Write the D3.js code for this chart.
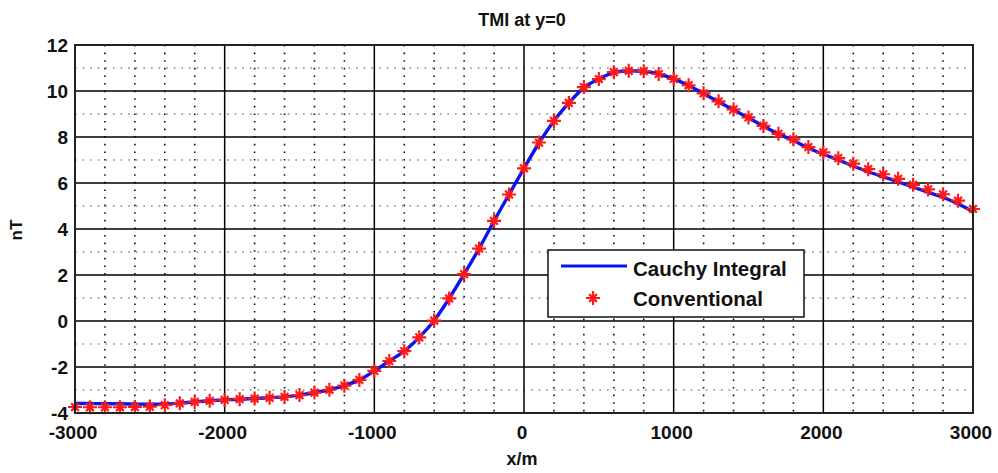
<!DOCTYPE html>
<html>
<head>
<meta charset="utf-8">
<script src="https://cdn.jsdelivr.net/npm/d3@7"></script>
<style>
  body { margin: 0; background: #fff; }
  svg { font-family: "Liberation Sans", Arial, sans-serif; font-weight: bold; }
</style>
</head>
<body>
<svg width="998" height="473"></svg>
<script>
// sample positions along the profile (m)
const xPos = [-3000, -2900, -2800, -2700, -2600, -2500, -2400, -2300, -2200, -2100,
  -2000, -1900, -1800, -1700, -1600, -1500, -1400, -1300, -1200, -1100,
  -1000, -900, -800, -700, -600, -500, -400, -300, -200, -100,
  0, 100, 200, 300, 400, 500, 600, 700, 800, 900,
  1000, 1100, 1200, 1300, 1400, 1500, 1600, 1700, 1800, 1900,
  2000, 2100, 2200, 2300, 2400, 2500, 2600, 2700, 2800, 2900, 3000];

const cauchy = [-3.58, -3.59, -3.60, -3.60, -3.61, -3.62, -3.61, -3.57, -3.52, -3.47,
  -3.43, -3.40, -3.37, -3.34, -3.30, -3.22, -3.11, -2.99, -2.81, -2.56,
  -2.17, -1.74, -1.31, -0.71, 0.02, 0.98, 2.04, 3.15, 4.35, 5.50,
  6.64, 7.74, 8.70, 9.48, 10.15, 10.52, 10.80, 10.88, 10.86, 10.74,
  10.53, 10.24, 9.89, 9.53, 9.18, 8.83, 8.47, 8.13, 7.85, 7.52,
  7.25, 7.00, 6.74, 6.49, 6.27, 6.05, 5.82, 5.60, 5.37, 5.10, 4.75];

const conventional = [-3.74, -3.75, -3.75, -3.75, -3.74, -3.72, -3.66, -3.58, -3.52, -3.47,
  -3.43, -3.40, -3.37, -3.34, -3.30, -3.22, -3.11, -2.99, -2.81, -2.56,
  -2.17, -1.74, -1.31, -0.71, 0.02, 0.98, 2.04, 3.15, 4.35, 5.50,
  6.64, 7.76, 8.70, 9.48, 10.17, 10.52, 10.82, 10.88, 10.86, 10.74,
  10.53, 10.25, 9.90, 9.55, 9.20, 8.85, 8.48, 8.14, 7.90, 7.56,
  7.33, 7.08, 6.84, 6.60, 6.38, 6.18, 5.92, 5.72, 5.51, 5.23, 4.87];

const xTicks = [-3000, -2000, -1000, 0, 1000, 2000, 3000];
const yTicks = [-4, -2, 0, 2, 4, 6, 8, 10, 12];

const pL = 75, pR = 973, pT = 45, pB = 413;

const svg = d3.select("svg");

const x = d3.scaleLinear().domain([-3000, 3000]).range([pL, pR]);
const y = d3.scaleLinear().domain([-4, 12]).range([pB, pT]);

// minor grid
const gx = svg.append("g");
d3.range(-3000, 3001, 200).filter(v => v % 1000 !== 0).forEach(v => {
  gx.append("line")
    .attr("x1", x(v)).attr("x2", x(v)).attr("y1", pT).attr("y2", pB)
    .attr("stroke", "#111").attr("stroke-width", 1.6)
    .attr("stroke-dasharray", "1.6,6");
});
d3.range(-3, 12, 2).forEach(v => {
  gx.append("line")
    .attr("x1", pL).attr("x2", pR).attr("y1", y(v)).attr("y2", y(v))
    .attr("stroke", "#8a8a8a").attr("stroke-width", 1.6)
    .attr("stroke-dasharray", "1.6,6");
});

// major grid
xTicks.forEach(v => {
  gx.append("line")
    .attr("x1", x(v)).attr("x2", x(v)).attr("y1", pT).attr("y2", pB)
    .attr("stroke", "#000").attr("stroke-width", 1.5);
});
yTicks.forEach(v => {
  gx.append("line")
    .attr("x1", pL).attr("x2", pR).attr("y1", y(v)).attr("y2", y(v))
    .attr("stroke", "#000").attr("stroke-width", 1.5);
});

// curve
const line = d3.line()
  .x((d, i) => x(xPos[i]))
  .y(d => y(d))
  .curve(d3.curveMonotoneX);

svg.append("path")
  .datum(cauchy)
  .attr("d", line)
  .attr("fill", "none")
  .attr("stroke", "#0a14f0")
  .attr("stroke-width", 3.4);

// star marker (matlab '*')
function star(cx, cy, r) {
  const d = r * 0.55;
  return `M${cx - r},${cy}L${cx + r},${cy}M${cx},${cy - r}L${cx},${cy + r}` +
    `M${cx - d},${cy - d}L${cx + d},${cy + d}M${cx - d},${cy + d}L${cx + d},${cy - d}`;
}

svg.append("g")
  .selectAll("path")
  .data(conventional)
  .join("path")
  .attr("d", (d, i) => star(x(xPos[i]), y(d), 7))
  .attr("stroke", "#ff1a1a")
  .attr("stroke-width", 2.2)
  .attr("fill", "none");

// axes box
svg.append("rect")
  .attr("x", pL).attr("y", pT)
  .attr("width", pR - pL).attr("height", pB - pT)
  .attr("fill", "none").attr("stroke", "#222").attr("stroke-width", 2);

// tick labels
svg.append("g")
  .selectAll("text")
  .data(xTicks)
  .join("text")
  .attr("x", d => x(d) - 2)
  .attr("y", 439)
  .attr("text-anchor", "middle")
  .attr("font-size", 19)
  .attr("fill", "#111")
  .text(d => d);

svg.append("g")
  .selectAll("text")
  .data(yTicks)
  .join("text")
  .attr("x", 68)
  .attr("y", d => y(d) + 7)
  .attr("text-anchor", "end")
  .attr("font-size", 19)
  .attr("fill", "#111")
  .text(d => d);

// titles
svg.append("text")
  .attr("x", 522).attr("y", 26)
  .attr("text-anchor", "middle")
  .attr("font-size", 18)
  .attr("fill", "#111")
  .text("TMI at y=0");

svg.append("text")
  .attr("x", 522).attr("y", 465)
  .attr("text-anchor", "middle")
  .attr("font-size", 18)
  .attr("fill", "#111")
  .text("x/m");

svg.append("text")
  .attr("transform", "translate(22,230) rotate(-90)")
  .attr("text-anchor", "middle")
  .attr("font-size", 17)
  .attr("fill", "#111")
  .text("nT");

// legend
const lg = svg.append("g");
lg.append("rect")
  .attr("x", 548).attr("y", 250).attr("width", 256).attr("height", 67)
  .attr("fill", "#fff").attr("stroke", "#111").attr("stroke-width", 1.5);
lg.append("line")
  .attr("x1", 561).attr("x2", 627).attr("y1", 266).attr("y2", 266)
  .attr("stroke", "#0a14f0").attr("stroke-width", 3);
lg.append("text")
  .attr("x", 633).attr("y", 276)
  .attr("font-size", 20.5).attr("fill", "#111")
  .text("Cauchy Integral");
lg.append("path")
  .attr("d", star(593, 298, 7))
  .attr("stroke", "#ff1a1a").attr("stroke-width", 2.2).attr("fill", "none");
lg.append("text")
  .attr("x", 633).attr("y", 306)
  .attr("font-size", 20.5).attr("fill", "#111")
  .text("Conventional");
</script>
</body>
</html>
